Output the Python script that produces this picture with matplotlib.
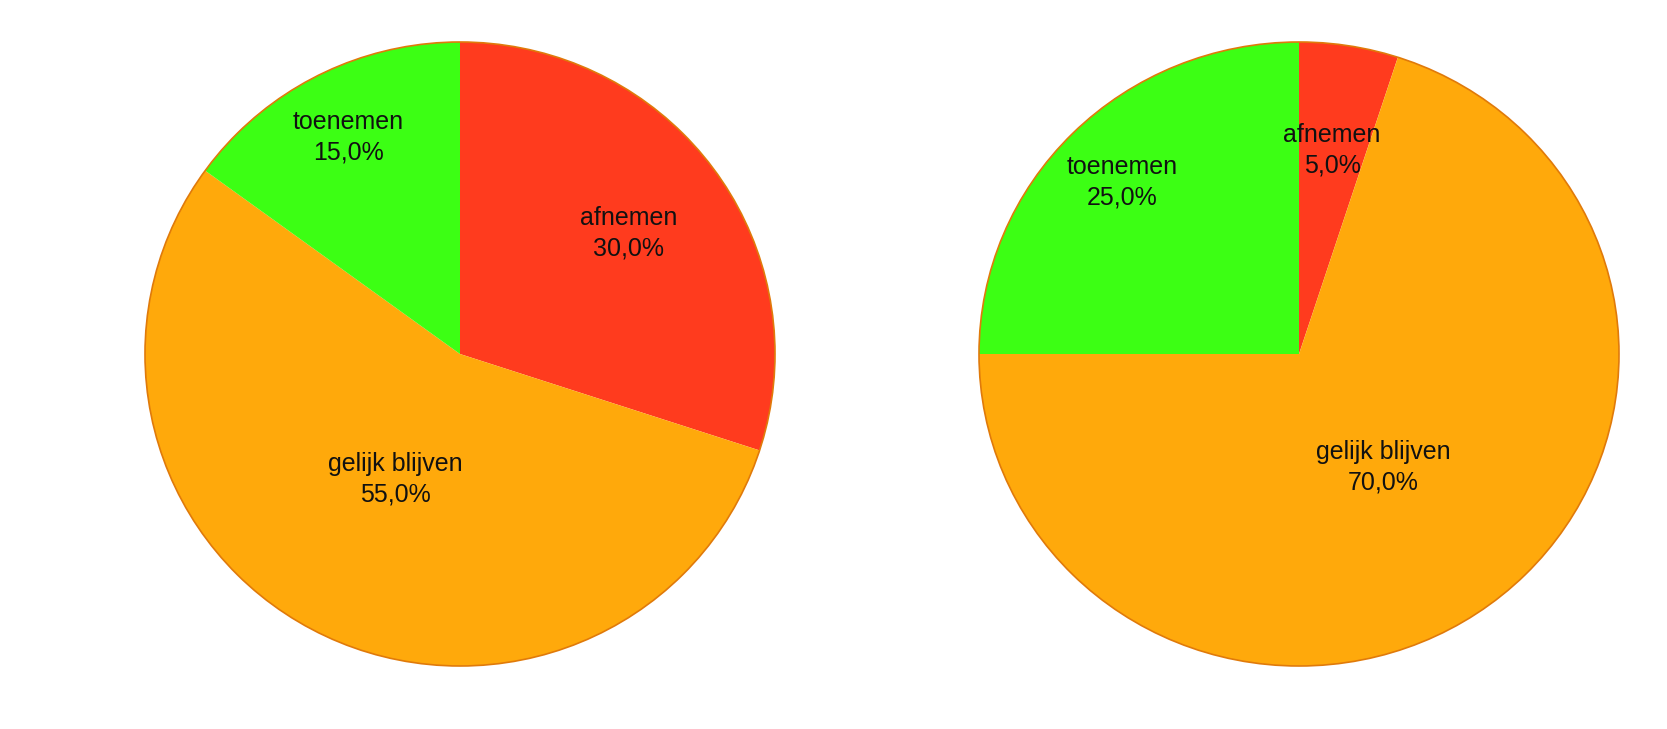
import numpy as np
import matplotlib
matplotlib.use("Agg")
import matplotlib.pyplot as plt

# data (percent)
labels = ["afnemen", "gelijk blijven", "toenemen"]
left_values = [30.0, 55.0, 15.0]
right_values = [5.0, 70.0, 25.0]

colors = ["#ff3b1e", "#ffa90b", "#3cff14"]
# how far from the centre each label sits (fraction of radius)
label_dist = [0.66, 0.45, 0.78]

plt.rcParams['font.family'] = ['Liberation Sans', 'DejaVu Sans']

W, H = 1667, 729
fig = plt.figure(figsize=(W / 100, H / 100), dpi=100)
pad = 1.01


def draw_pie(cx, cy, rx, ry, values):
    ax = fig.add_axes([(cx - rx * pad) / W, (H - cy - ry * pad) / H,
                       2 * rx * pad / W, 2 * ry * pad / H])
    wedges, _ = ax.pie(values, colors=colors, startangle=90, counterclock=False,
                       radius=1.0, wedgeprops=dict(linewidth=0))
    # thin darker rim like the original
    rim = plt.Circle((0, 0), 1.0, fill=False, edgecolor="#e07a0a", linewidth=1.2)
    ax.add_patch(rim)
    for w, lab, v, d in zip(wedges, labels, values, label_dist):
        ang = np.deg2rad((w.theta1 + w.theta2) / 2)
        ax.text(d * np.cos(ang), d * np.sin(ang),
                f"{lab}\n{v:.1f}%".replace(".", ","),
                ha="center", va="center", fontsize=18, color="#111111",
                linespacing=1.35)
    ax.set_xlim(-pad, pad)
    ax.set_ylim(-pad, pad)
    ax.set_aspect("auto")
    ax.axis("off")


draw_pie(460, 354, 315, 312, left_values)
draw_pie(1299, 354, 320, 312, right_values)

fig.savefig("out.png", dpi=100, facecolor="white")
